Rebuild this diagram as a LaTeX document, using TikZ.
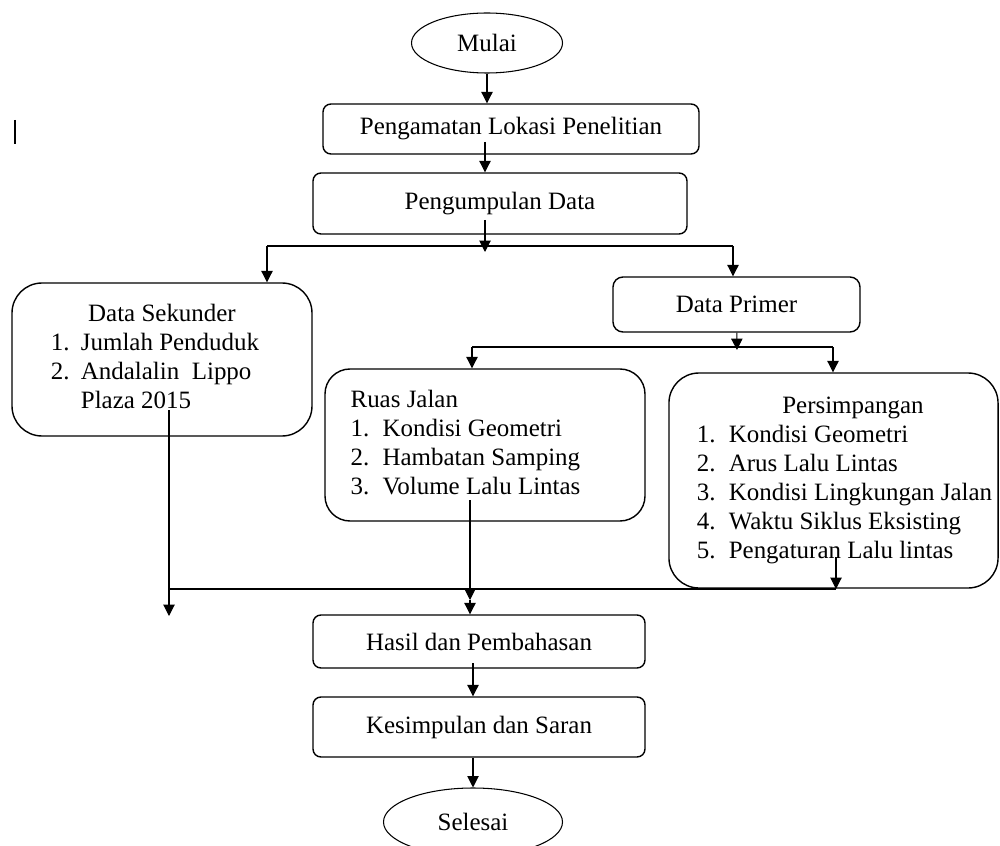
\documentclass[tikz,border=0pt]{standalone}
\usepackage{fontspec}
\setmainfont{Liberation Serif}
\usetikzlibrary{shapes.geometric,arrows.meta}

\begin{document}
\begin{tikzpicture}[main/.style = {draw, rectangle, rounded corners=0.16cm, line width=0.8pt},
        list/.style = {main, rounded corners=0.6cm},
        term/.style = {draw, ellipse, line width=0.6pt},
        line width=0.6pt, >={Triangle[length=6.5pt,width=6.5pt]},
        font=\fontsize{14.2}{16.5}\selectfont]
        \useasboundingbox (0,0) rectangle (20,-16.92);
        \node[term, minimum width=3.02cm, minimum height=1.2cm] (1) at (9.74,-0.86) {Mulai};
        \node[main, minimum width=7.52cm, minimum height=1.0cm] (2) at (10.22,-2.58) {Pengamatan Lokasi Penelitian};
        \node[main, minimum width=7.48cm, minimum height=1.22cm] (3) at (10.0,-4.07) {Pengumpulan Data};
        \node[list, minimum width=6cm, minimum height=3.06cm] (4) at (3.24,-7.19) {\begin{tabular}{@{}p{0.6cm}@{}l@{\hspace{0.28cm}}}
            \multicolumn{2}{@{}c@{}}{Data Sekunder}\\
            1. & Jumlah Penduduk\\
            2. & Andalalin\ \ Lippo\\
               & Plaza 2015
            \end{tabular}};
        \node[main, rounded corners=0.2cm, minimum width=4.94cm, minimum height=1.1cm] (5) at (14.73,-6.09) {Data Primer};
        \node[list, rounded corners=0.5cm, minimum width=6.4cm, minimum height=3.04cm] (6) at (9.70,-8.90) {\begin{tabular}{@{}p{0.64cm}@{}l@{\hspace{0.78cm}}}
            \multicolumn{2}{@{}l@{}}{Ruas Jalan}\\
            1. & Kondisi Geometri\\
            2. & Hambatan Samping\\
            3. & Volume Lalu Lintas
            \end{tabular}};
        \node[list, minimum width=6.58cm, minimum height=4.3cm] (7) at (16.67,-9.61) {\begin{tabular}{@{\hspace{0.44cm}}p{0.64cm}@{}l@{}}
            \multicolumn{2}{@{}c@{}}{\hspace{0.78cm}Persimpangan}\\
            1. & Kondisi Geometri\\
            2. & Arus Lalu Lintas\\
            3. & Kondisi Lingkungan Jalan\\
            4. & Waktu Siklus Eksisting\\
            5. & Pengaturan Lalu lintas
            \end{tabular}};
        \node[main, minimum width=6.64cm, minimum height=1.06cm] (8) at (9.58,-12.83) {Hasil dan Pembahasan};
        \node[main, minimum width=6.64cm, minimum height=1.2cm] (9) at (9.58,-14.54) {Kesimpulan dan Saran};
        \node[term, minimum width=3.58cm, minimum height=1.36cm] (10) at (9.46,-16.44) {Selesai};
        % branch points
        \coordinate (c1) at (9.70,-2.84);
        \coordinate (c2) at (9.70,-4.40);
        \coordinate (j1) at (9.70,-5.04);
        \coordinate (l1) at (5.34,-4.92);
        \coordinate (r1) at (14.66,-4.92);
        \coordinate (j2) at (14.74,-7.0);
        \coordinate (l2) at (9.44,-6.94);
        \coordinate (r2) at (16.66,-6.94);
        \coordinate (s1) at (3.38,-8.20);
        \coordinate (s2) at (3.38,-12.32);
        \coordinate (b1) at (3.38,-11.78);
        \coordinate (r3) at (9.40,-10.0);
        \coordinate (j3) at (9.40,-12.0);
        \coordinate (p1) at (16.72,-11.14);
        \coordinate (b2) at (16.72,-11.78);
        \coordinate (h1) at (9.46,-13.26);
        \draw[->] (1) -- (2.north -| 1);
        \draw[->] (c1) -- (c1 |- 3.north);
        \draw[->] (c2) -- (j1);
        \draw (l1) -- (r1);
        \draw[->] (l1) -- (l1 |- 4.north);
        \draw[->] (r1) -- (r1 |- 5.north);
        \draw[->] (5) -- (j2);
        \draw (l2) -- (r2);
        \draw[->] (l2) -- (l2 |- 6.north);
        \draw[->] (r2) -- (r2 |- 7.north);
        \draw[->] (s1) -- (s2);
        \draw[->] (r3) -- (j3);
        \draw[->] (j3) -- (j3 |- 8.north);
        \draw[->] (p1) -- (b2);
        \draw (b1) -- (b2);
        \draw[->] (h1) -- (h1 |- 9.north);
        \draw[->] (9.south -| 10) -- (10);
        \draw[line width=1.2pt] (0.30,-2.40) -- (0.30,-2.88);
    \end{tikzpicture}
\end{document}
